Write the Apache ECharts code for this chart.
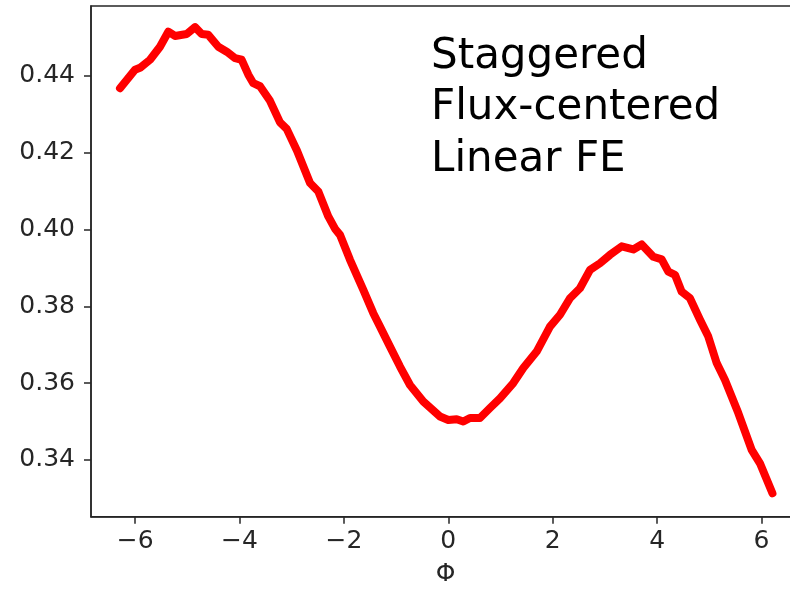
<!DOCTYPE html>
<html>
<head>
<meta charset="utf-8">
<script src="https://cdn.jsdelivr.net/npm/echarts@6/dist/echarts.min.js"></script>
<style>
  html, body { margin: 0; padding: 0; background: #fff; }
  #chart { width: 790px; height: 590px; }
</style>
</head>
<body>
<div id="chart"></div>
<script>
// Phase values along the horizontal axis
const phi = [
  -6.289, -6.002, -5.906, -5.714, -5.523, -5.364, -5.236, -5.011, -4.852, -4.724,
  -4.598, -4.406, -4.245, -4.086, -3.958, -3.831, -3.736, -3.607, -3.416, -3.224,
  -3.096, -2.898, -2.649, -2.490, -2.299, -2.171, -2.075, -1.883, -1.628, -1.437,
  -1.308, -1.117, -0.925, -0.734, -0.479, -0.159, 0.000, 0.161, 0.287, 0.416,
  0.607, 0.799, 0.990, 1.245, 1.437, 1.693, 1.948, 2.140, 2.331, 2.523,
  2.715, 2.906, 3.098, 3.322, 3.544, 3.705, 3.927, 4.088, 4.215, 4.343,
  4.471, 4.630, 4.822, 4.981, 5.142, 5.301, 5.556, 5.812, 5.971, 6.210
];

// Computed quantity at each phase value
const values = [
  0.4368, 0.4416, 0.4421, 0.4442, 0.4476, 0.4515, 0.4504, 0.4509, 0.4527, 0.4509,
  0.4507, 0.4476, 0.4463, 0.4446, 0.4442, 0.4403, 0.4381, 0.4373, 0.4335, 0.4279,
  0.4262, 0.4205, 0.4121, 0.4099, 0.4034, 0.4002, 0.3986, 0.3921, 0.3843, 0.3782,
  0.3747, 0.3695, 0.3643, 0.3595, 0.3552, 0.3513, 0.3504, 0.3506, 0.3500, 0.3509,
  0.3509, 0.3535, 0.3560, 0.3600, 0.3639, 0.3682, 0.3747, 0.3778, 0.3821, 0.3847,
  0.3895, 0.3912, 0.3934, 0.3956, 0.3948, 0.3961, 0.3929, 0.3922, 0.3890, 0.3882,
  0.3838, 0.3821, 0.3765, 0.3721, 0.3652, 0.3608, 0.3522, 0.3426, 0.3391, 0.3313
];

// Tick positions
const xTicks = [-6, -4, -2, 0, 2, 4, 6];
const yTicks = [0.34, 0.36, 0.38, 0.40, 0.42, 0.44];

// Annotation lines
const noteLines = ['Staggered', 'Flux-centered', 'Linear FE'];

const FONT = '"DejaVu Sans", Verdana, sans-serif';
const INK = '#262626';

const chart = echarts.init(document.getElementById('chart'), null, { renderer: 'canvas' });

chart.setOption({
  animation: false,
  backgroundColor: '#ffffff',
  grid: {
    left: 91,
    top: 6,
    right: -10,
    bottom: 73.3,
    show: true,
    borderColor: INK,
    borderWidth: 1.5,
    outerBoundsMode: 'none'
  },
  xAxis: {
    type: 'value',
    min: -6.845,
    max: 6.738,
    name: 'Φ',
    nameLocation: 'middle',
    nameGap: 45,
    nameTextStyle: { fontFamily: FONT, fontSize: 25, color: INK },
    axisLine: { show: true, onZero: false, lineStyle: { color: INK, width: 1.5 } },
    axisTick: { show: true, length: 7, lineStyle: { color: INK, width: 1.5 }, customValues: xTicks },
    axisLabel: {
      fontFamily: FONT, fontSize: 25, color: INK, margin: 12,
      customValues: xTicks,
      formatter: v => (v < 0 ? '\u2212' + Math.abs(v) : String(v))
    },
    splitLine: { show: false }
  },
  yAxis: {
    type: 'value',
    min: 0.3252,
    max: 0.4582,
    axisLine: { show: true, onZero: false, lineStyle: { color: INK, width: 1.5 } },
    axisTick: { show: true, length: 7, lineStyle: { color: INK, width: 1.5 }, customValues: yTicks },
    axisLabel: {
      fontFamily: FONT, fontSize: 25, color: INK, margin: 16,
      customValues: yTicks,
      formatter: v => v.toFixed(2)
    },
    splitLine: { show: false }
  },
  graphic: [{
    type: 'text',
    left: 431,
    top: 31,
    style: {
      text: noteLines.join('\n'),
      fontFamily: FONT,
      fontSize: 42,
      lineHeight: 51.5,
      fill: '#000000'
    }
  }],
  series: [{
    type: 'line',
    data: phi.map((p, i) => [p, values[i]]),
    showSymbol: false,
    smooth: false,
    lineStyle: { color: '#ff0000', width: 8, join: 'round', cap: 'round' },
    clip: false
  }]
});
</script>
</body>
</html>
